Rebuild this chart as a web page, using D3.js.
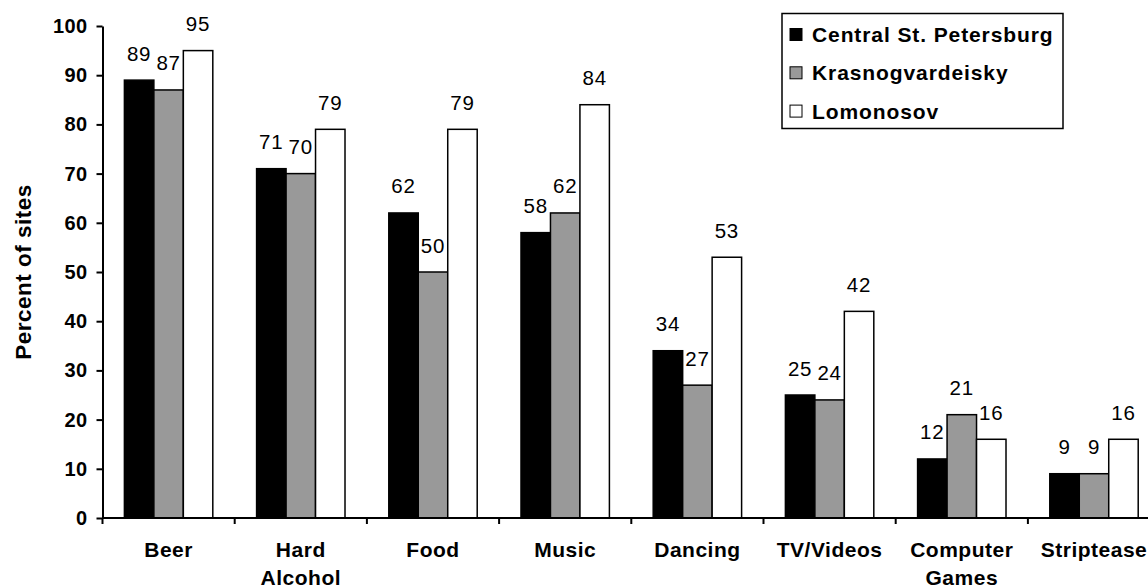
<!DOCTYPE html>
<html>
<head>
<meta charset="utf-8">
<script src="https://cdn.jsdelivr.net/npm/d3@7"></script>
<style>
  html, body { margin: 0; padding: 0; background: #fff; }
  svg { display: block; font-family: "Liberation Sans", Arial, sans-serif; }
</style>
</head>
<body>
<svg id="chart" width="1148" height="588"></svg>
<script>
// Activities offered at sites, by district (percent of sites)
const categories = ["Beer", "Hard Alcohol", "Food", "Music", "Dancing", "TV/Videos", "Computer Games", "Striptease"];
const categoryLines = [["Beer"], ["Hard", "Alcohol"], ["Food"], ["Music"], ["Dancing"], ["TV/Videos"], ["Computer", "Games"], ["Striptease"]];
const seriesNames = ["Central St. Petersburg", "Krasnogvardeisky", "Lomonosov"];
const centralValues = [89, 71, 62, 58, 34, 25, 12, 9];
const krasnoValues = [87, 70, 50, 62, 27, 24, 21, 9];
const lomonosovValues = [95, 79, 79, 84, 53, 42, 16, 16];
const yTicks = [0, 10, 20, 30, 40, 50, 60, 70, 80, 90, 100];
const seriesFills = ["#000000", "#999999", "#ffffff"];

const seriesValues = [centralValues, krasnoValues, lomonosovValues];

const svg = d3.select("#chart");
const plotLeft = 102.5, plotTop = 26, plotBottom = 518, bandW = 132.2;

const x = d3.scaleBand()
  .domain(categories)
  .range([plotLeft, plotLeft + bandW * categories.length])
  .paddingInner(0).paddingOuter(0);

const x1 = d3.scaleBand()
  .domain(seriesNames)
  .range([0, bandW])
  .paddingOuter(0.743).paddingInner(0);

const y = d3.scaleLinear().domain([0, 100]).range([plotBottom, plotTop]);

// bars
const groups = svg.append("g").selectAll("g")
  .data(categories)
  .join("g")
  .attr("transform", d => `translate(${x(d)},0)`);

groups.selectAll("rect")
  .data((c, i) => seriesNames.map((s, j) => ({ s, j, v: seriesValues[j][i] })))
  .join("rect")
  .attr("x", d => x1(d.s))
  .attr("y", d => y(d.v))
  .attr("width", x1.bandwidth())
  .attr("height", d => y(0) - y(d.v))
  .attr("fill", d => seriesFills[d.j])
  .attr("stroke", "#000")
  .attr("stroke-width", 1.5);

// value labels
groups.selectAll("text.val")
  .data((c, i) => seriesNames.map((s, j) => ({ s, j, v: seriesValues[j][i] })))
  .join("text")
  .attr("class", "val")
  .attr("x", d => x1(d.s) + x1.bandwidth() / 2)
  .attr("y", d => y(d.v) - 19.5)
  .attr("text-anchor", "middle")
  .attr("font-size", 20.5)
  .attr("letter-spacing", 0.8)
  .attr("fill", "#000")
  .text(d => d.v);

// y axis
const yAxis = svg.append("g")
  .attr("transform", `translate(${plotLeft},0)`)
  .call(d3.axisLeft(y).tickValues(yTicks).tickSize(6).tickPadding(9).tickSizeOuter(0));
yAxis.select(".domain").attr("stroke", "#000").attr("stroke-width", 2);
yAxis.selectAll(".tick line").attr("stroke", "#000").attr("stroke-width", 2);
yAxis.selectAll(".tick text")
  .attr("font-family", "Liberation Sans, Arial, sans-serif")
  .attr("font-size", 20).attr("font-weight", "bold")
  .attr("letter-spacing", 0.4)
  .attr("fill", "#000");

// x axis line and category boundary ticks
svg.append("line")
  .attr("x1", plotLeft).attr("x2", 1148)
  .attr("y1", y(0)).attr("y2", y(0))
  .attr("stroke", "#000").attr("stroke-width", 2);
svg.append("g").selectAll("line")
  .data(categories)
  .join("line")
  .attr("x1", d => x(d)).attr("x2", d => x(d))
  .attr("y1", y(0)).attr("y2", y(0) + 6)
  .attr("stroke", "#000").attr("stroke-width", 2);

// category labels
svg.append("g").selectAll("text")
  .data(categories)
  .join("text")
  .attr("x", d => x(d) + bandW / 2)
  .attr("y", 556.5)
  .attr("text-anchor", "middle")
  .attr("font-size", 21).attr("font-weight", "bold")
  .attr("letter-spacing", 0.5)
  .each(function (d, i) {
    d3.select(this).selectAll("tspan")
      .data(categoryLines[i])
      .join("tspan")
      .attr("x", x(d) + bandW / 2)
      .attr("dy", (t, k) => k === 0 ? 0 : 28.5)
      .text(t => t);
  });

// y axis title
svg.append("text")
  .attr("transform", "translate(31,272) rotate(-90)")
  .attr("text-anchor", "middle")
  .attr("font-size", 22.5).attr("font-weight", "bold")
  .attr("letter-spacing", 0.5)
  .text("Percent of sites");

// legend
const legend = svg.append("g");
legend.append("rect")
  .attr("x", 782).attr("y", 13.5)
  .attr("width", 281).attr("height", 115)
  .attr("fill", "#fff").attr("stroke", "#000").attr("stroke-width", 1.5);
const rows = legend.selectAll("g.row")
  .data(seriesNames)
  .join("g")
  .attr("class", "row")
  .attr("transform", (d, i) => `translate(790,${34.5 + i * 38.3})`);
rows.append("rect")
  .attr("x", 0).attr("y", -6)
  .attr("width", 12).attr("height", 12)
  .attr("fill", (d, i) => seriesFills[i])
  .attr("stroke", "#000").attr("stroke-width", 1);
rows.append("text")
  .attr("x", 22).attr("y", 7.5)
  .attr("font-size", 21).attr("font-weight", "bold")
  .attr("letter-spacing", 0.9)
  .text(d => d);
</script>
</body>
</html>
